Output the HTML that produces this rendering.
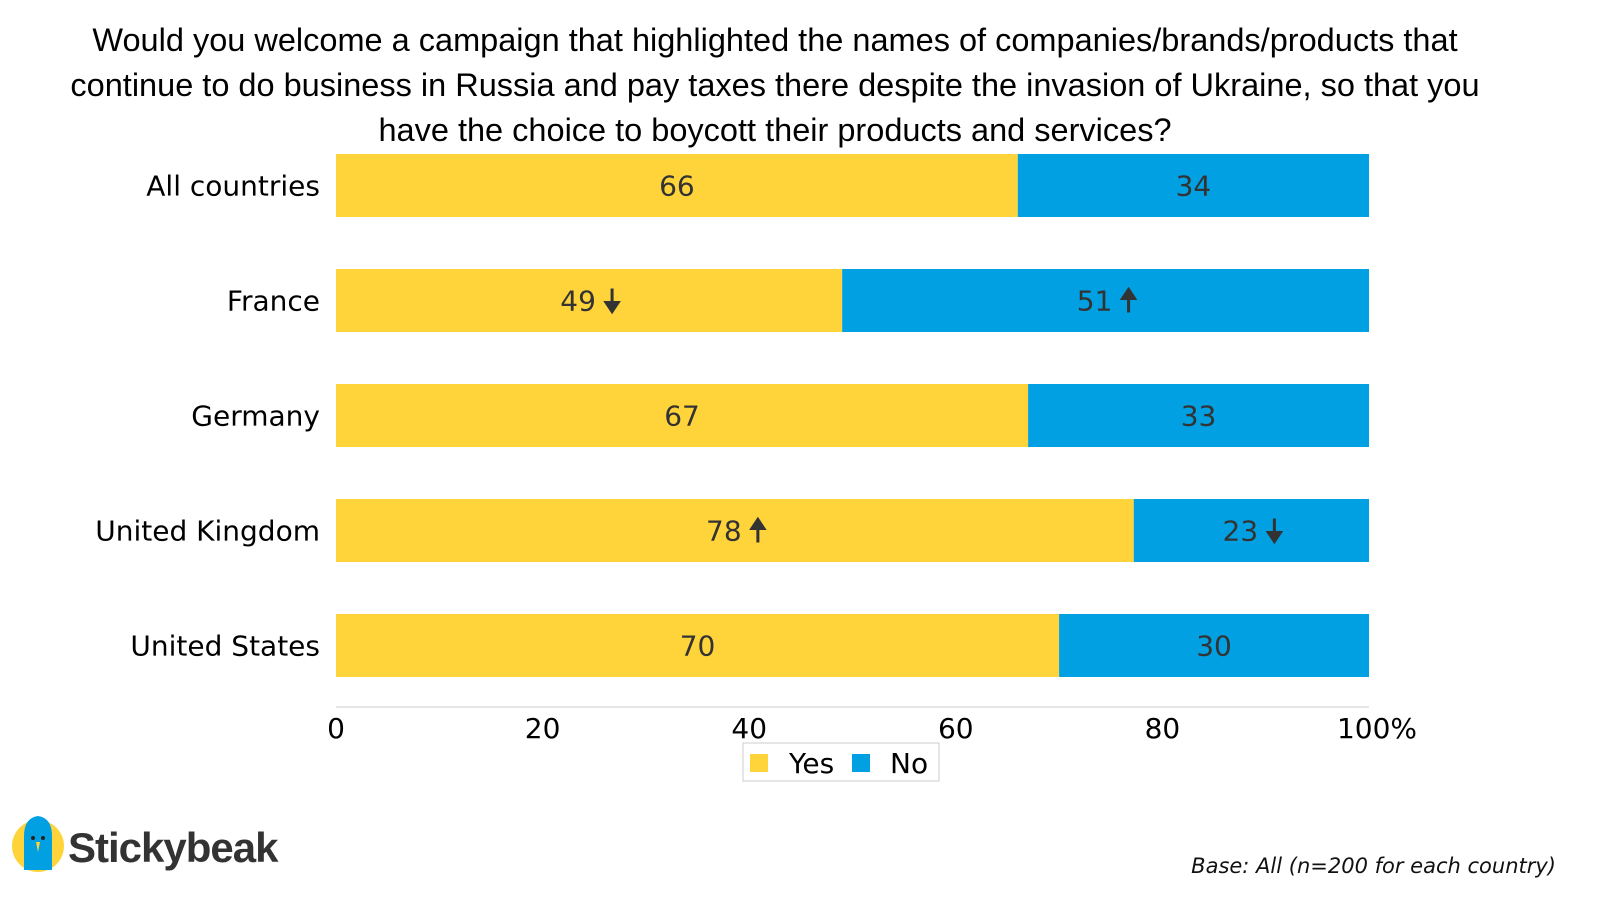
<!DOCTYPE html>
<html><head><meta charset="utf-8"><style>
body{margin:0;background:#fff;width:1600px;height:900px;overflow:hidden}
svg text{font-family:"DejaVu Sans","Liberation Sans",sans-serif}
svg text.t{font-family:"Liberation Sans",sans-serif}
</style></head><body>
<svg id="chart" width="1600" height="900" viewBox="0 0 1600 900">
<g font-size="32.5" fill="#000" text-anchor="middle">
<text class="t" x="775" y="51">Would you welcome a campaign that highlighted the names of companies/brands/products that</text>
<text class="t" x="775" y="96">continue to do business in Russia and pay taxes there despite the invasion of Ukraine, so that you</text>
<text class="t" x="775" y="141">have the choice to boycott their products and services?</text>
</g>
<line x1="336" y1="707" x2="1369" y2="707" stroke="#e6e6e6" stroke-width="2"/>
<g id="bars"></g>
<g id="ticks"></g>
<g>
<rect x="743" y="743" width="196" height="38" fill="#fff" stroke="#ccc"/>
<rect x="750" y="754" width="18" height="18" fill="#FFD43B"/>
<text x="789" y="773" font-size="28">Yes</text>
<rect x="852" y="754" width="18" height="18" fill="#00A0E3"/>
<text x="890" y="773" font-size="28">No</text>
</g>
<g>
<circle cx="38" cy="846" r="26" fill="#FFD43B"/>
<path d="M24 870 L24 836 Q24 818 38 816 Q52 818 52 836 L52 870 Z" fill="#00A0E3"/>
<circle cx="33" cy="838" r="2" fill="#222"/><circle cx="43" cy="838" r="2" fill="#222"/>
<path d="M36 842 L40 842 L38 852 Z" fill="#FFD43B"/>
<text class="t" x="68" y="862" font-size="42" font-weight="bold" fill="#333" letter-spacing="-1">Stickybeak</text>
</g>
<text x="1556" y="873" text-anchor="end" font-size="21" font-style="italic" fill="#111">Base: All (n=200 for each country)</text>
</svg>
<script>
const categories = ["All countries","France","Germany","United Kingdom","United States"];
const yesValues = [66,49,67,78,70];
const noValues = [34,51,33,23,30];
const yesMarks = ["","down","","up",""];
const noMarks = ["","up","","down",""];
const tickValues = [0,20,40,60,80,100];
const tickLabels = ["0","20","40","60","80","100%"];
const NS="http://www.w3.org/2000/svg";
const x0=336,x1=1369,y0=154,pitch=115,bh=63;
const xs=v=>x0+(x1-x0)*v/100;
const ys=i=>y0+i*pitch;
function mk(t,a){const e=document.createElementNS(NS,t);for(const k in a)e.setAttribute(k,a[k]);return e;}
const bars=document.getElementById('bars');
function arrow(g,x,cy,dir){
  const p=mk('path',{d:dir==="down"?`M${x} ${cy-12} L${x} ${cy+4} M${x-6} ${cy+2} L${x} ${cy+11} L${x+6} ${cy+2} Z`:`M${x} ${cy+12} L${x} ${cy-4} M${x-6} ${cy-2} L${x} ${cy-11} L${x+6} ${cy-2} Z`,stroke:'#333','stroke-width':3,fill:'#333'});
  
  
  g.appendChild(p);
}
categories.forEach((c,i)=>{
  const tot=yesValues[i]+noValues[i];
  const yp=yesValues[i]/tot*100;
  const y=ys(i),cy=y+bh/2;
  const lab=mk('text',{x:320,y:cy+10,'text-anchor':'end','font-size':28,fill:'#000'});
  lab.textContent=c;
  
  
  bars.appendChild(lab);
  const r1=mk('rect',{x:xs(0),y:y,width:xs(yp)-xs(0),height:bh,fill:'#FFD43B'});
  
  
  bars.appendChild(r1);
  const r2=mk('rect',{x:xs(yp),y:y,width:xs(100)-xs(yp),height:bh,fill:'#00A0E3'});
  
  
  bars.appendChild(r2);
  [[yesValues[i],yesMarks[i],(xs(0)+xs(yp))/2],[noValues[i],noMarks[i],(xs(yp)+xs(100))/2]].forEach(([v,m,cx])=>{
    const off=m?11:0;
    const t=mk('text',{x:cx-off,y:cy+10,'text-anchor':'middle','font-size':28,fill:'#333'});
    t.textContent=v;
    
    
    bars.appendChild(t);
    if(m)arrow(bars,cx+off+12,cy,m);
  });
});
const ticks=document.getElementById('ticks');
tickValues.forEach((v,i)=>{
  const t=mk('text',{x:xs(v)+(i===5?8:0),y:738,'text-anchor':'middle','font-size':28,fill:'#000'});
  t.textContent=tickLabels[i];
  
  
  ticks.appendChild(t);
});
</script>
</body></html>
